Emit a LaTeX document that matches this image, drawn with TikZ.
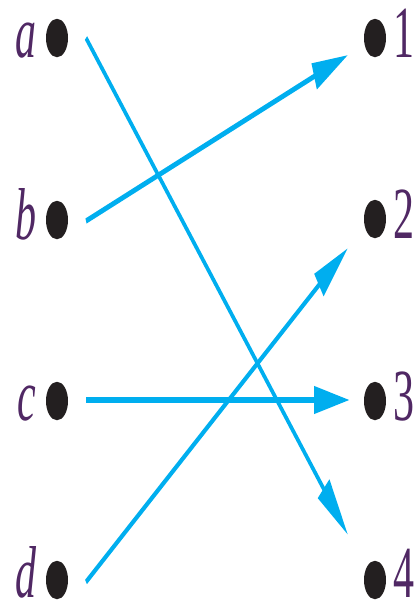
\documentclass[tikz,border=0pt]{standalone}
\usepackage{fontspec}
\setmainfont{Liberation Serif}
\usetikzlibrary{arrows.meta}
\definecolor{arrowblue}{HTML}{00AEEF}
\definecolor{dotblack}{HTML}{231F20}
\definecolor{labelpurple}{RGB}{80,40,100}
\tikzset{
  vertexdot/.style={circle, fill=dotblack, minimum size=22pt, inner sep=0pt},
  letterlbl/.style={anchor=base, inner sep=0pt, text=labelpurple, font=\fontsize{42}{42}\selectfont\itshape},
  numlbl/.style={anchor=base, inner sep=0pt, text=labelpurple, font=\fontsize{42}{42}\selectfont},
  link/.style={draw=arrowblue, line width=3.1pt, -{Triangle[length=36pt,width=15pt]}},
  boldlink/.style={link, line width=3.8pt}
}
\begin{document}
\begin{tikzpicture}[x=1pt,y=1pt]
\useasboundingbox (0,0) rectangle (416,-603);
\begin{scope}[transform canvas={yscale=1.75}, y={(0pt,-0.5714286pt)}]
  % left dots and labels
  \node[vertexdot] (da) at (57,38) {};
  \node[vertexdot] (db) at (57,220) {};
  \node[vertexdot] (dc) at (57,401) {};
  \node[vertexdot] (dd) at (57,580) {};
  \node[letterlbl] (la) at (26,57) {a};
  \node[letterlbl] (lb) at (26,239) {b};
  \node[letterlbl] (lc) at (27,420) {c};
  \node[letterlbl] (ld) at (26,597) {d};
  % right dots and labels
  \node[vertexdot] (d1) at (375,38) {};
  \node[vertexdot] (d2) at (375,219) {};
  \node[vertexdot] (d3) at (375,401) {};
  \node[vertexdot] (d4) at (375,580) {};
  \node[numlbl] (n1) at (404,57) {1};
  \node[numlbl] (n2) at (404,238) {2};
  \node[numlbl] (n3) at (404,420) {3};
  \node[numlbl] (n4) at (404,597) {4};
  % connector ends
  \coordinate (a-out) at (86,38);
  \coordinate (b-out) at (86,221);
  \coordinate (c-out) at (86,400);
  \coordinate (d-out) at (86,582);
  \coordinate (1-in) at (348,55);
  \coordinate (2-in) at (348,248);
  \coordinate (3-in) at (350,400);
  \coordinate (4-in) at (348,535);
  % connectors
  \draw[link] (a-out) -- (4-in);
  \draw[link] (b-out) -- (1-in);
  \draw[boldlink] (c-out) -- (3-in);
  \draw[link] (d-out) -- (2-in);
\end{scope}
\end{tikzpicture}
\end{document}
